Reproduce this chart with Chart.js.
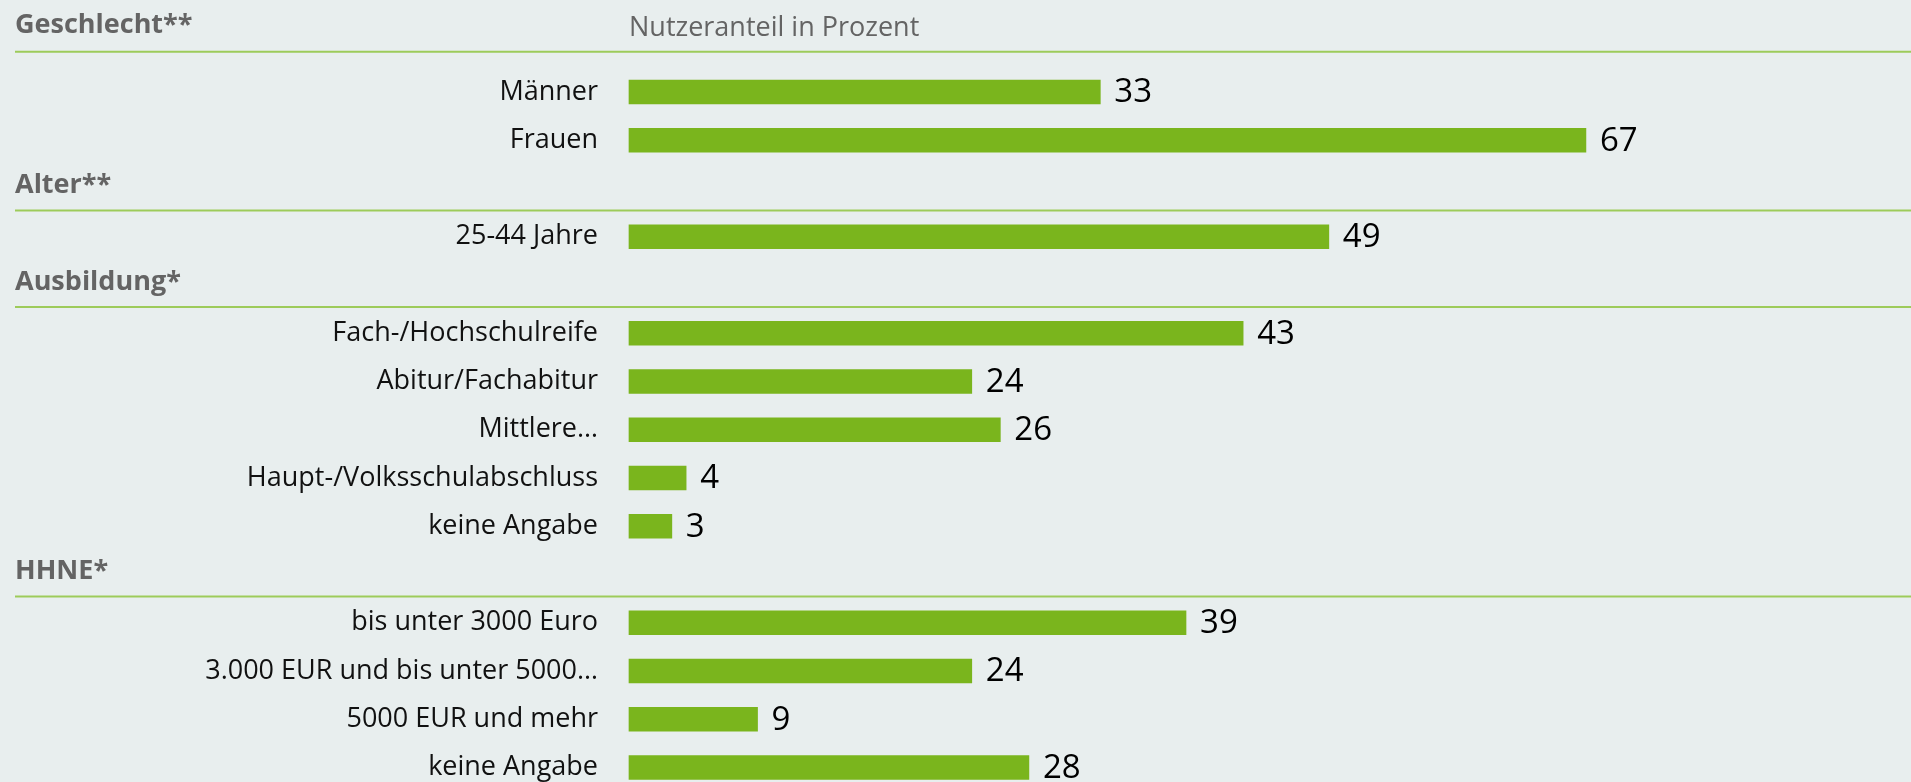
<!DOCTYPE html>
<html>
<head>
<meta charset="utf-8">
<script src="https://cdn.jsdelivr.net/npm/chart.js@4/dist/chart.umd.min.js"></script>
<style>
    body { margin: 0; background: #e8eeee; overflow: hidden; }
    #wrap { width: 1911px; height: 782px; position: relative; }
</style>
</head>
<body>
<div id="wrap"><canvas id="userChart"></canvas></div>
<script>
const axisTitle = 'Nutzeranteil in Prozent';
const groupTitles = ['Geschlecht**', 'Alter**', 'Ausbildung*', 'HHNE*'];

const geschlechtLabels = ['Männer', 'Frauen'];
const geschlechtValues = [33, 67];

const alterLabels = ['25-44 Jahre'];
const alterValues = [49];

const ausbildungLabels = ['Fach-/Hochschulreife', 'Abitur/Fachabitur', 'Mittlere…', 'Haupt-/Volksschulabschluss', 'keine Angabe'];
const ausbildungValues = [43, 24, 26, 4, 3];

const hhneLabels = ['bis unter 3000 Euro', '3.000 EUR und bis unter 5000…', '5000 EUR und mehr', 'keine Angabe'];
const hhneValues = [39, 24, 9, 28];

const FONT = "'Open Sans', 'Noto Sans', sans-serif";
const barColor = '#7ab51d';
const ruleColor = '#9dcb5a';

// build one category list, with an empty row in front of every group but the first
const groups = [
    [geschlechtLabels, geschlechtValues],
    [alterLabels, alterValues],
    [ausbildungLabels, ausbildungValues],
    [hhneLabels, hhneValues],
];
const labels = [];
const values = [];
const headerRows = [];
groups.forEach(([l, v], i) => {
    if (i === 0) {
        headerRows.push(-1);
    } else {
        headerRows.push(labels.length);
        labels.push('');
        values.push(null);
    }
    labels.push(...l);
    values.push(...v);
});

// group headings, green rules and the axis title
const headerPlugin = {
    id: 'headerPlugin',
    afterDraw(chart) {
        const { ctx, chartArea, scales: { y } } = chart;
        ctx.save();
        ctx.textAlign = 'left';
        ctx.textBaseline = 'alphabetic';
        headerRows.forEach((row, i) => {
            const yc = y.getPixelForValue(row);
            const base = i === 0 ? yc - 10.5 : yc + 4.5;
            const lineY = i === 0 ? yc + 8 : yc + 22;
            ctx.font = 'bold 27px ' + FONT;
            ctx.fillStyle = '#646464';
            ctx.fillText(groupTitles[i], 15, base);
            ctx.strokeStyle = ruleColor;
            ctx.lineWidth = 2;
            ctx.beginPath();
            ctx.moveTo(15, lineY);
            ctx.lineTo(chart.width, lineY);
            ctx.stroke();
            if (i === 0) {
                ctx.font = '27px ' + FONT;
                ctx.fillStyle = '#646464';
                ctx.fillText(axisTitle, chartArea.left, base + 3);
            }
        });
        ctx.restore();
    }
};

// numbers right of the bars
const valuePlugin = {
    id: 'valuePlugin',
    afterDatasetsDraw(chart) {
        const { ctx } = chart;
        const meta = chart.getDatasetMeta(0);
        ctx.save();
        ctx.font = '33px ' + FONT;
        ctx.fillStyle = '#000';
        ctx.textAlign = 'left';
        ctx.textBaseline = 'middle';
        meta.data.forEach((bar, i) => {
            if (values[i] === null) return;
            ctx.fillText(String(values[i]), bar.x + 14, bar.y + 1);
        });
        ctx.restore();
    }
};

const ctx = document.getElementById('userChart').getContext('2d');
const userChart = new Chart(ctx, {
    type: 'bar',
    data: {
        labels: labels,
        datasets: [{
            data: values,
            backgroundColor: barColor,
            borderWidth: 0,
            barThickness: 24,
            clip: false,
        }]
    },
    options: {
        indexAxis: 'y',
        responsive: true,
        maintainAspectRatio: false,
        animation: false,
        layout: {
            padding: { top: 92, bottom: 14.5, left: 0, right: 68 }
        },
        plugins: {
            legend: { display: false },
            tooltip: { enabled: false },
        },
        scales: {
            x: {
                display: false,
                min: 0,
                max: 85,
            },
            y: {
                offset: false,
                grid: { display: false, drawTicks: false },
                border: { display: false },
                ticks: {
                    autoSkip: false,
                    padding: 31,
                    color: '#111',
                    font: { family: FONT, size: 27, lineHeight: 1 },
                },
                afterFit(scale) {
                    // fixed label column, no extra room above/below the rows
                    scale.width = 629;
                    scale.paddingTop = 0;
                    scale.paddingBottom = 0;
                },
            },
        },
    },
    plugins: [headerPlugin, valuePlugin],
});
</script>
</body>
</html>
